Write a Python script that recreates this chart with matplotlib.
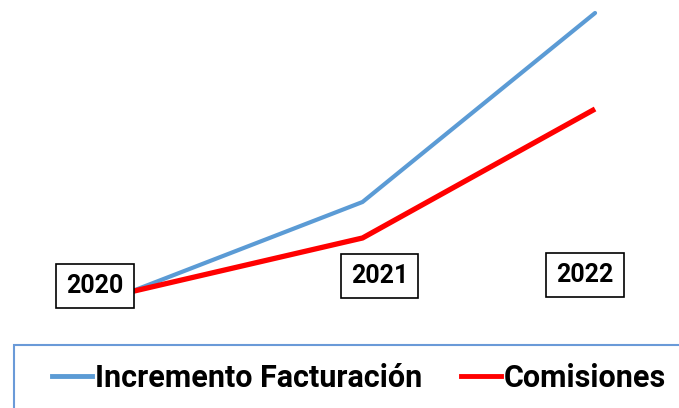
import matplotlib.pyplot as plt
from matplotlib.lines import Line2D
from matplotlib.patches import Rectangle

plt.rcParams['font.family'] = ['Roboto', 'DejaVu Sans']

# datos
years = ['2020', '2021', '2022']
facturacion = [100, 130, 193]
comisiones = [100, 118, 161]

fig = plt.figure(figsize=(6.79, 4.08), dpi=100)
ax = fig.add_axes([0, 0, 1, 1])
x = list(range(len(years)))

ax.plot(x, facturacion, color='#5B9BD5', lw=3, solid_capstyle='round', label='Incremento Facturación')
ax.plot(x, comisiones, color='#FF0000', lw=3.8, solid_capstyle='butt', label='Comisiones')

ax.set_xlim(-0.559, 2.361)
ax.set_ylim(61.33, 197.33)
ax.axis('off')

# etiquetas de año en cajas (desplazamiento en pixeles)
offsets = [(-35, 6), (17, 16), (-10, 17)]
for i, yr in enumerate(years):
    dx, dy = offsets[i]
    ax.annotate(yr, xy=(i, facturacion[0]), xytext=(dx * 0.72, dy * 0.72),
                textcoords='offset points', ha='center', va='center',
                fontsize=18, fontweight='bold', color='black',
                bbox=dict(boxstyle='square,pad=0.4', fc='white', ec='black', lw=1.2),
                zorder=5)

# marco de la leyenda
fig.patches.append(Rectangle((14 / 679, -0.2), 1.0, 0.2 + (408 - 345) / 408,
                             transform=fig.transFigure, fill=False,
                             ec='#6A9AD8', lw=1.5))

handles = [Line2D([], [], color='#5B9BD5', lw=3.5),
           Line2D([], [], color='#FF0000', lw=3.5)]
fig.legend(handles, ['Incremento Facturación', 'Comisiones'], loc='center left',
           bbox_to_anchor=(52 / 679, 30 / 408), ncol=2, frameon=False,
           borderpad=0, borderaxespad=0, handlelength=1.3, handletextpad=0.1,
           columnspacing=1.27, prop={'weight': 'bold', 'size': 22})

fig.savefig('out.png', dpi=100)
